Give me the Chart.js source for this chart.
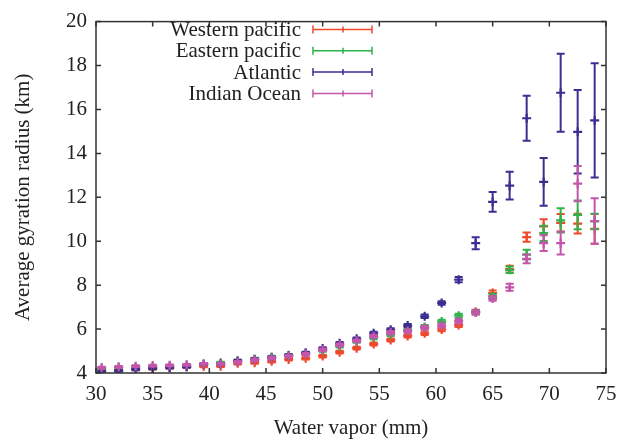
<!DOCTYPE html>
<html>
<head>
<meta charset="utf-8">
<script src="https://cdn.jsdelivr.net/npm/chart.js@4.4.1/dist/chart.umd.min.js"></script>
<style>
  html, body { margin: 0; padding: 0; background: #fff; }
  #wrap { width: 632px; height: 439px; }
</style>
</head>
<body>
<div id="wrap"><canvas id="gyration"></canvas></div>
<script>
// water vapor bins (mm)
const waterVapor = [30.5, 32, 33.5, 35, 36.5, 38, 39.5, 41, 42.5, 44, 45.5, 47, 48.5, 50, 51.5,
                    53, 54.5, 56, 57.5, 59, 60.5, 62, 63.5, 65, 66.5, 68, 69.5, 71, 72.5, 74];

// average gyration radius (km) and error per basin
const westernPacific = [4.08, 4.12, 4.17, 4.20, 4.24, 4.28, 4.30, 4.31, 4.44, 4.47, 4.53, 4.62, 4.67, 4.77, 4.95,
                        5.13, 5.32, 5.50, 5.69, 5.81, 5.98, 6.18, 6.78, 7.64, 8.73, 10.19, 10.68, 10.84, 10.80, 10.56];
const westernErr = [0.04, 0.04, 0.04, 0.04, 0.04, 0.04, 0.04, 0.04, 0.05, 0.05, 0.05, 0.05, 0.05, 0.06, 0.06,
                    0.06, 0.07, 0.07, 0.07, 0.08, 0.08, 0.09, 0.10, 0.12, 0.15, 0.21, 0.32, 0.40, 0.45, 0.68];

const easternPacific = [4.20, 4.24, 4.27, 4.30, 4.32, 4.35, 4.40, 4.47, 4.55, 4.64, 4.73, 4.81, 4.88, 5.03, 5.22,
                        5.44, 5.61, 5.76, 5.95, 6.10, 6.34, 6.61, 6.77, 7.48, 8.70, 9.39, 10.36, 10.95, 11.20, 10.90];
const easternErr = [0.04, 0.04, 0.04, 0.04, 0.04, 0.04, 0.04, 0.04, 0.05, 0.05, 0.05, 0.05, 0.05, 0.06, 0.06,
                    0.06, 0.07, 0.07, 0.07, 0.08, 0.08, 0.09, 0.10, 0.12, 0.15, 0.22, 0.35, 0.55, 0.65, 0.35];

const atlantic = [4.06, 4.10, 4.16, 4.21, 4.25, 4.28, 4.40, 4.42, 4.55, 4.62, 4.70, 4.80, 4.92, 5.11, 5.35,
                  5.56, 5.81, 5.97, 6.16, 6.58, 7.19, 8.25, 9.91, 11.79, 12.53, 15.60, 12.70, 16.76, 14.98, 15.50];
const atlanticErr = [0.04, 0.04, 0.04, 0.04, 0.04, 0.04, 0.04, 0.04, 0.05, 0.05, 0.05, 0.05, 0.05, 0.06, 0.06,
                     0.06, 0.07, 0.07, 0.07, 0.08, 0.08, 0.12, 0.27, 0.45, 0.63, 1.02, 1.09, 1.78, 1.90, 2.60];

const indianOcean = [4.25, 4.28, 4.31, 4.34, 4.35, 4.37, 4.41, 4.41, 4.50, 4.60, 4.68, 4.77, 4.86, 5.06, 5.28,
                     5.47, 5.67, 5.84, 5.91, 6.06, 6.16, 6.36, 6.76, 7.39, 7.90, 9.20, 9.91, 9.91, 12.62, 10.92];
const indianErr = [0.04, 0.04, 0.04, 0.04, 0.04, 0.04, 0.04, 0.04, 0.05, 0.05, 0.05, 0.05, 0.05, 0.06, 0.06,
                   0.06, 0.07, 0.07, 0.07, 0.08, 0.08, 0.09, 0.10, 0.10, 0.16, 0.20, 0.36, 0.52, 0.80, 1.04];

const seriesNames = ["Western pacific", "Eastern pacific", "Atlantic", "Indian Ocean"];
const seriesColors = ["#f0482a", "#2fb24a", "#3a2f91", "#c455aa"];
const xTicks = [30, 35, 40, 45, 50, 55, 60, 65, 70, 75];
const yTicks = [4, 6, 8, 10, 12, 14, 16, 18, 20];

const FONT = "'Liberation Serif', 'DejaVu Serif', serif";
Chart.defaults.font.family = FONT;
Chart.defaults.font.size = 21;
Chart.defaults.color = "#222";

function pts(ys) {
  return waterVapor.map((x, i) => ({x: x, y: ys[i]}));
}

function series(i, ys, errs) {
  return {
    label: seriesNames[i],
    data: pts(ys),
    errors: errs,
    borderColor: seriesColors[i],
    backgroundColor: seriesColors[i],
    pointStyle: "cross",
    pointRadius: 4.5,
    pointBorderWidth: 2.2,
    showLine: false,
    order: 4 - i
  };
}

// vertical error bars with caps
const errorBars = {
  id: "errorBars",
  afterDatasetDraw(chart, args) {
    const ds = chart.data.datasets[args.index];
    if (!ds.errors) return;
    const ctx = chart.ctx, ys = chart.scales.y, area = chart.chartArea;
    ctx.save();
    ctx.beginPath();
    ctx.rect(area.left, area.top, area.right - area.left, area.bottom - area.top);
    ctx.clip();
    ctx.strokeStyle = ds.borderColor;
    ctx.lineWidth = 2;
    args.meta.data.forEach((el, i) => {
      const v = ds.data[i].y, e = ds.errors[i];
      const top = ys.getPixelForValue(v + e), bot = ys.getPixelForValue(v - e);
      ctx.beginPath();
      ctx.moveTo(el.x, top); ctx.lineTo(el.x, bot);
      ctx.moveTo(el.x - 4, top); ctx.lineTo(el.x + 4, top);
      ctx.moveTo(el.x - 4, bot); ctx.lineTo(el.x + 4, bot);
      ctx.stroke();
    });
    ctx.restore();
  }
};

// gnuplot style box with inward ticks and key
const frameAndKey = {
  id: "frameAndKey",
  afterDraw(chart) {
    const ctx = chart.ctx, a = chart.chartArea;
    const xs = chart.scales.x, ys = chart.scales.y;
    ctx.save();
    ctx.strokeStyle = "#333";
    ctx.lineWidth = 1.5;
    ctx.strokeRect(a.left, a.top, a.right - a.left, a.bottom - a.top);
    ctx.beginPath();
    xTicks.forEach(t => {
      const px = xs.getPixelForValue(t);
      ctx.moveTo(px, a.bottom); ctx.lineTo(px, a.bottom - 5);
      ctx.moveTo(px, a.top); ctx.lineTo(px, a.top + 5);
    });
    yTicks.forEach(t => {
      const py = ys.getPixelForValue(t);
      ctx.moveTo(a.left, py); ctx.lineTo(a.left + 5, py);
      ctx.moveTo(a.right, py); ctx.lineTo(a.right - 5, py);
    });
    ctx.stroke();

    // key
    ctx.font = "21px " + FONT;
    ctx.textAlign = "right";
    ctx.textBaseline = "middle";
    chart.data.datasets.forEach((ds, i) => {
      const y = 29.5 + i * 21.3;
      ctx.fillStyle = "#222";
      ctx.fillText(ds.label, 301, y + 1);
      ctx.strokeStyle = ds.borderColor;
      ctx.lineWidth = 1.5;
      ctx.beginPath();
      ctx.moveTo(313, y); ctx.lineTo(372, y);
      ctx.moveTo(313, y - 4); ctx.lineTo(313, y + 4);
      ctx.moveTo(372, y - 4); ctx.lineTo(372, y + 4);
      ctx.moveTo(343, y - 3); ctx.lineTo(343, y + 3);
      ctx.stroke();
    });
    ctx.restore();
  }
};

new Chart("gyration", {
  type: "scatter",
  data: {
    datasets: [
      series(0, westernPacific, westernErr),
      series(1, easternPacific, easternErr),
      series(2, atlantic, atlanticErr),
      series(3, indianOcean, indianErr)
    ]
  },
  options: {
    responsive: true,
    maintainAspectRatio: false,
    animation: false,
    layout: {padding: {left: 0, top: 13, right: 26, bottom: 0}},
    plugins: {
      legend: {display: false},
      tooltip: {enabled: false}
    },
    scales: {
      x: {
        type: "linear",
        min: 30, max: 75,
        grid: {display: false, drawTicks: false},
        border: {display: false},
        ticks: {stepSize: 5, padding: 9, color: "#222"},
        title: {display: true, text: "Water vapor (mm)", color: "#222", padding: {top: 0, bottom: -2}},
        afterFit(scale) { scale.height = 66; }
      },
      y: {
        min: 4, max: 20,
        grid: {display: false, drawTicks: false},
        border: {display: false},
        ticks: {stepSize: 2, padding: 9, color: "#222"},
        title: {display: true, text: "Average gyration radius (km)", color: "#222", padding: {top: 11, bottom: 0}},
        afterFit(scale) { scale.width = 96; }
      }
    }
  },
  plugins: [errorBars, frameAndKey]
});
</script>
</body>
</html>
